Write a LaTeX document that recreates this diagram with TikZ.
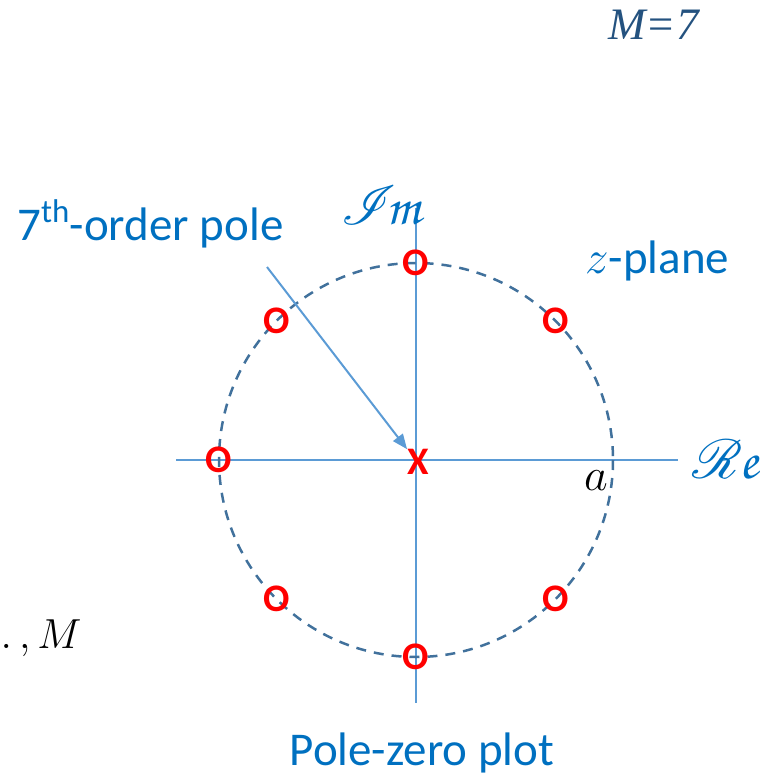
\RequirePackage{fix-cm}
\documentclass[tikz,border=0pt]{standalone}
\usepackage[T1,TU]{fontenc}
\usepackage{fontspec}
\setmainfont{Carlito}
\newfontfamily\timesfont{Liberation Serif}
\DeclareFontFamily{U}{bigrsfs}{\skewchar\font127 }
\DeclareFontShape{U}{bigrsfs}{m}{n}{<->rsfs10}{}
\newcommand{\scrcap}[1]{{\usefont{U}{bigrsfs}{m}{n}#1}}
\newcommand{\scrlow}[1]{{\usefont{T1}{pzc}{m}{it}#1}}
\usetikzlibrary{arrows.meta,calc}
\definecolor{txtblue}{HTML}{0070C0}
\definecolor{axisblue}{HTML}{5B9BD5}
\definecolor{ringblue}{HTML}{41719C}
\definecolor{darkblue}{HTML}{24527F}
\begin{document}
\begin{tikzpicture}[
  x=1pt, y=-1pt,
  >={Triangle[length=15pt,width=12pt]},
  axis/.style={draw=axisblue, line width=1.4pt},
  ring/.style={draw=ringblue, line width=2.5pt, dash pattern=on 10pt off 8pt},
  zero/.style={text=red, font=\fontsize{39}{39}\selectfont\bfseries, inner sep=0pt},
  lbl/.style={text=txtblue, font=\fontsize{47}{50}\selectfont, inner sep=0pt},
  scr/.style={text=txtblue, font=\fontsize{55}{60}\selectfont, inner sep=0pt}
]
\useasboundingbox (0,0) rectangle (769,776);
\clip (0,0) rectangle (769,776);

% axes and unit circle
\coordinate (o) at (416,460);
\coordinate (xl) at (176,460);
\coordinate (xr) at (678,460);
\coordinate (yt) at (416,208);
\coordinate (yb) at (416,703);
\draw[axis] (xl) -- (xr);
\draw[axis] (yt) -- (yb);
\draw[ring] (o) circle[radius=197];

% zeros and the pole
\foreach \ang [count=\i] in {45,90,135,180,225,270,315}
  \node[zero] (z\i) at ($(o)+(\ang:197)$) {O};
\node[zero] (pole) at (418,462) {X};

% labels
\node[lbl, anchor=base west] (order) at (17,240) {7\textsuperscript{th}-order pole};
\node[lbl, anchor=base west] (plane) at (585,273) {$z$-plane};
\node[lbl, anchor=base] (title) at (422,765) {Pole-zero plot};
\node[text=darkblue, inner sep=0pt, anchor=base west, font=\fontsize{45}{48}\timesfont\itshape] (mval) at (608,40) {M=7};
\node[scr] (im) at (381,206) {\scrcap{I}\scrlow{m}};
\node[scr] (re) at (725,460) {\scrcap{R}\scrlow{e}};
\node[inner sep=0pt, anchor=base, font=\fontsize{46}{50}\selectfont] (a) at (596,490) {$a$};
\node[inner sep=0pt, anchor=base east, font=\fontsize{42}{46}\selectfont] (kdots) at (82,648) {$\ldots,M$};

\coordinate (tail) at (267,267);
\draw[->, draw=axisblue, fill=axisblue, line width=2pt] (tail) -- (pole.north west);
\end{tikzpicture}
\end{document}
